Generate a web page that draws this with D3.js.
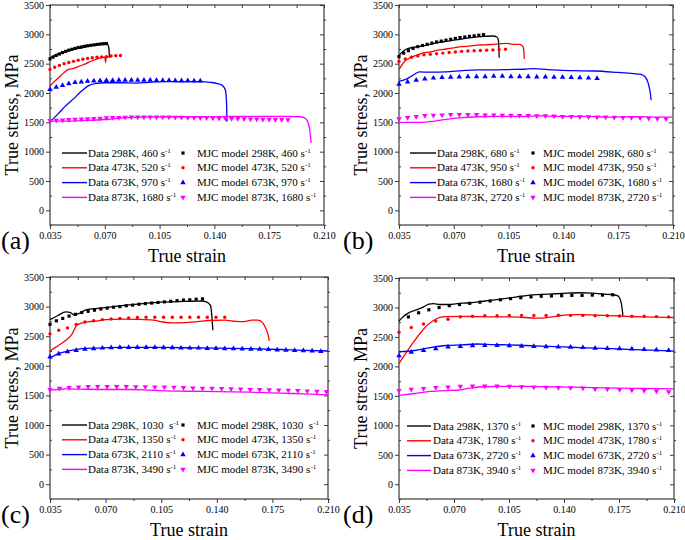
<!DOCTYPE html>
<html>
<head>
<meta charset="utf-8">
<script src="https://cdn.jsdelivr.net/npm/d3@7"></script>
<style>
  body { margin: 0; background: #fff; }
  svg { display: block; }
</style>
</head>
<body>
<div id="chart"></div>
<script>
// --------------- Data ---------------
const X_TICKS = [0.035, 0.070, 0.105, 0.140, 0.175, 0.210];
const Y_TICKS = [0, 500, 1000, 1500, 2000, 2500, 3000, 3500];
const TEMPS = ["298K", "473K", "673K", "873K"];
const COLORS = ["#000000", "#ff0000", "#0000ff", "#ff00ff"];
const PANEL_LABELS = ["(a)", "(b)", "(c)", "(d)"];
const RATES = [
  ["460", "520", "970", "1680"],
  ["680", "950", "1680", "2720"],
  ["1030 ", "1350", "2110", "3490"],
  ["1370", "1780", "2720", "3940"]
];

// panel (a)
const aLine298 = [[0.035,2600],[0.038,2640],[0.042,2680],[0.046,2715],[0.050,2745],[0.055,2770],[0.060,2800],[0.065,2830],[0.069,2850],[0.0715,2840],[0.0725,2780],[0.073,2600]];
const aModel298 = [[0.035,2580],[0.037,2610],[0.039,2640],[0.041,2665],[0.043,2690],[0.045,2710],[0.047,2730],[0.049,2745],[0.051,2760],[0.053,2775],[0.055,2785],[0.057,2795],[0.059,2805],[0.061,2812],[0.063,2820],[0.065,2827],[0.067,2833],[0.069,2838],[0.071,2842]];
const aLine473 = [[0.035,2120],[0.038,2200],[0.042,2300],[0.046,2390],[0.050,2420],[0.054,2460],[0.058,2500],[0.062,2550],[0.066,2590],[0.0700,2612],[0.0705,2520],[0.0710,2615],[0.0735,2625]];
const aModel473 = [[0.035,2400],[0.038,2440],[0.041,2470],[0.044,2500],[0.047,2520],[0.050,2540],[0.053,2560],[0.056,2575],[0.059,2590],[0.062,2600],[0.065,2610],[0.068,2615],[0.071,2620],[0.074,2630],[0.077,2635],[0.080,2640]];
const aLine673 = [[0.035,1510],[0.040,1640],[0.045,1780],[0.050,1900],[0.055,2030],[0.060,2130],[0.065,2165],[0.070,2175],[0.080,2175],[0.090,2170],[0.100,2185],[0.110,2195],[0.120,2190],[0.130,2195],[0.138,2180],[0.142,2160],[0.145,2130],[0.147,2050],[0.1478,1800],[0.148,1510]];
const aModel673 = [[0.035,2060],[0.039,2100],[0.043,2130],[0.047,2160],[0.051,2180],[0.055,2190],[0.059,2200],[0.063,2205],[0.067,2210],[0.071,2215],[0.075,2215],[0.079,2220],[0.083,2220],[0.087,2220],[0.091,2220],[0.095,2220],[0.099,2220],[0.103,2215],[0.107,2215],[0.111,2215],[0.115,2210],[0.119,2210],[0.123,2210],[0.127,2205],[0.131,2205]];
const aLine873 = [[0.035,1520],[0.045,1520],[0.055,1530],[0.065,1540],[0.075,1560],[0.085,1580],[0.095,1590],[0.110,1595],[0.130,1595],[0.150,1600],[0.170,1600],[0.185,1600],[0.195,1595],[0.198,1570],[0.200,1480],[0.2012,1300],[0.2018,1150]];
const aModel873 = [[0.035,1530],[0.039,1535],[0.043,1540],[0.047,1545],[0.051,1550],[0.055,1555],[0.059,1560],[0.063,1565],[0.067,1570],[0.071,1575],[0.075,1580],[0.079,1582],[0.083,1585],[0.087,1588],[0.091,1590],[0.095,1590],[0.099,1590],[0.103,1590],[0.107,1590],[0.111,1588],[0.115,1586],[0.119,1585],[0.123,1583],[0.127,1580],[0.131,1578],[0.135,1575],[0.139,1572],[0.143,1570],[0.147,1567],[0.151,1565],[0.155,1562],[0.159,1560],[0.163,1557],[0.167,1555],[0.171,1552],[0.175,1550],[0.179,1547],[0.183,1545],[0.187,1542]];

// panel (b)
const bLine298 = [[0.035,2640],[0.038,2720],[0.041,2760],[0.045,2780],[0.050,2800],[0.055,2830],[0.060,2860],[0.065,2880],[0.070,2900],[0.075,2920],[0.080,2940],[0.085,2955],[0.090,2965],[0.095,2972],[0.0975,2955],[0.0985,2900],[0.099,2600]];
const bModel298 = [[0.035,2620],[0.038,2680],[0.041,2720],[0.044,2760],[0.047,2790],[0.050,2810],[0.053,2830],[0.056,2850],[0.059,2870],[0.062,2885],[0.065,2900],[0.068,2915],[0.071,2930],[0.074,2945],[0.077,2955],[0.080,2965],[0.083,2975],[0.086,2985],[0.089,2995]];
const bLine473 = [[0.035,2400],[0.038,2520],[0.042,2600],[0.046,2640],[0.050,2680],[0.055,2700],[0.060,2730],[0.065,2750],[0.070,2770],[0.075,2790],[0.080,2800],[0.085,2815],[0.090,2820],[0.095,2830],[0.100,2840],[0.104,2845],[0.108,2830],[0.112,2830],[0.114,2800],[0.1148,2700],[0.115,2580]];
const bModel473 = [[0.035,2540],[0.039,2580],[0.043,2610],[0.047,2630],[0.051,2650],[0.055,2660],[0.059,2670],[0.063,2680],[0.067,2690],[0.071,2700],[0.075,2710],[0.079,2715],[0.083,2720],[0.087,2725],[0.091,2730],[0.095,2735],[0.099,2740],[0.103,2745]];
const bLine673 = [[0.035,2200],[0.040,2240],[0.045,2320],[0.048,2360],[0.055,2355],[0.065,2360],[0.075,2380],[0.085,2395],[0.095,2395],[0.105,2400],[0.115,2405],[0.121,2415],[0.130,2400],[0.145,2380],[0.160,2375],[0.175,2350],[0.185,2330],[0.189,2320],[0.192,2280],[0.194,2180],[0.1955,2000],[0.196,1880]];
const bModel673 = [[0.035,2150],[0.0405,2190],[0.046,2220],[0.0515,2240],[0.057,2255],[0.0625,2265],[0.068,2270],[0.0735,2275],[0.079,2280],[0.0845,2280],[0.090,2280],[0.0955,2285],[0.101,2285],[0.1065,2280],[0.112,2280],[0.1175,2280],[0.123,2275],[0.1285,2275],[0.134,2270],[0.1395,2270],[0.145,2265],[0.1505,2260],[0.156,2255],[0.1615,2250]];
const bLine873 = [[0.035,1500],[0.045,1500],[0.052,1505],[0.058,1520],[0.065,1550],[0.075,1580],[0.085,1595],[0.095,1600],[0.110,1600],[0.125,1610],[0.140,1600],[0.155,1600],[0.170,1590],[0.185,1595],[0.200,1590],[0.210,1590]];
const bModel873 = [[0.035,1560],[0.0405,1580],[0.046,1600],[0.0515,1615],[0.057,1620],[0.0625,1625],[0.068,1630],[0.0735,1630],[0.079,1630],[0.0845,1630],[0.090,1625],[0.0955,1625],[0.101,1620],[0.1065,1620],[0.112,1615],[0.1175,1615],[0.123,1610],[0.1285,1610],[0.134,1605],[0.1395,1600],[0.145,1600],[0.1505,1595],[0.156,1595],[0.1615,1590],[0.167,1590],[0.1725,1585],[0.178,1580],[0.1835,1580],[0.189,1575],[0.1945,1570],[0.200,1565],[0.2055,1560]];

// panel (c)
const cLine298 = [[0.035,2780],[0.040,2850],[0.045,2910],[0.048,2900],[0.050,2860],[0.053,2880],[0.058,2950],[0.065,2970],[0.075,3000],[0.085,3030],[0.095,3055],[0.105,3075],[0.115,3085],[0.125,3090],[0.130,3095],[0.1335,3080],[0.136,3020],[0.137,2800],[0.1375,2600]];
const cModel298 = [[0.035,2700],[0.039,2760],[0.043,2800],[0.047,2840],[0.051,2870],[0.055,2900],[0.059,2920],[0.063,2940],[0.067,2960],[0.071,2975],[0.075,2990],[0.079,3000],[0.083,3015],[0.087,3025],[0.091,3040],[0.095,3050],[0.099,3060],[0.103,3070],[0.107,3080],[0.111,3090],[0.115,3100],[0.119,3110],[0.123,3115],[0.127,3125],[0.131,3130]];
const cLine473 = [[0.035,2250],[0.040,2340],[0.045,2430],[0.049,2540],[0.052,2690],[0.056,2730],[0.060,2745],[0.065,2760],[0.070,2780],[0.080,2790],[0.090,2785],[0.100,2770],[0.106,2740],[0.112,2725],[0.120,2730],[0.128,2745],[0.135,2765],[0.145,2770],[0.152,2750],[0.157,2745],[0.162,2770],[0.166,2770],[0.169,2720],[0.171,2620],[0.1725,2500],[0.173,2420]];
const cModel473 = [[0.035,2540],[0.0405,2600],[0.046,2640],[0.0515,2700],[0.057,2740],[0.0625,2760],[0.068,2780],[0.0735,2790],[0.079,2800],[0.0845,2810],[0.090,2815],[0.0955,2820],[0.101,2820],[0.1065,2820],[0.112,2820],[0.1175,2820],[0.123,2820],[0.1285,2820],[0.134,2820],[0.1395,2820],[0.145,2820]];
const cLine673 = [[0.035,2130],[0.040,2200],[0.045,2240],[0.050,2270],[0.055,2290],[0.065,2300],[0.080,2310],[0.100,2310],[0.120,2305],[0.140,2300],[0.160,2290],[0.180,2275],[0.195,2260],[0.210,2250]];
const cModel673 = [[0.035,2150],[0.0405,2200],[0.046,2240],[0.0515,2260],[0.057,2280],[0.0625,2290],[0.068,2300],[0.0735,2305],[0.079,2310],[0.0845,2310],[0.090,2310],[0.0955,2310],[0.101,2310],[0.1065,2305],[0.112,2305],[0.1175,2300],[0.123,2300],[0.1285,2300],[0.134,2295],[0.1395,2295],[0.145,2290],[0.1505,2290],[0.156,2285],[0.1615,2280],[0.167,2280],[0.1725,2275],[0.178,2270],[0.1835,2265],[0.189,2260],[0.1945,2255],[0.200,2250],[0.2055,2245]];
const cLine873 = [[0.035,1590],[0.040,1600],[0.045,1610],[0.055,1605],[0.070,1600],[0.085,1600],[0.095,1595],[0.105,1580],[0.120,1570],[0.140,1565],[0.160,1555],[0.180,1540],[0.195,1525],[0.210,1510]];
const cModel873 = [[0.035,1600],[0.041,1620],[0.047,1630],[0.053,1640],[0.059,1650],[0.065,1650],[0.071,1650],[0.077,1650],[0.083,1650],[0.089,1645],[0.095,1645],[0.101,1640],[0.107,1640],[0.113,1635],[0.119,1630],[0.125,1625],[0.131,1620],[0.137,1620],[0.143,1615],[0.149,1610],[0.155,1605],[0.161,1600],[0.167,1600],[0.173,1595],[0.179,1590],[0.185,1585],[0.191,1580],[0.197,1575],[0.203,1570],[0.209,1565]];

// panel (d)
const dLine298 = [[0.035,2770],[0.038,2850],[0.042,2920],[0.046,2960],[0.050,3000],[0.054,3055],[0.057,3065],[0.061,3050],[0.066,3050],[0.072,3065],[0.080,3080],[0.090,3110],[0.100,3140],[0.110,3180],[0.120,3215],[0.130,3225],[0.140,3240],[0.150,3250],[0.158,3245],[0.165,3225],[0.170,3220],[0.174,3200],[0.176,3120],[0.177,2980],[0.1775,2860]];
const dModel298 = [[0.041,2840],[0.0475,2910],[0.054,2960],[0.0605,3000],[0.067,3030],[0.0735,3050],[0.080,3070],[0.0865,3090],[0.093,3110],[0.0995,3130],[0.106,3150],[0.1125,3165],[0.119,3180],[0.1255,3190],[0.132,3195],[0.1385,3200],[0.145,3205],[0.1515,3205],[0.158,3210],[0.1645,3210],[0.171,3215]];
const dLine473 = [[0.035,2050],[0.038,2170],[0.041,2290],[0.045,2440],[0.049,2580],[0.053,2700],[0.057,2780],[0.061,2830],[0.065,2845],[0.075,2850],[0.085,2845],[0.095,2840],[0.105,2840],[0.115,2830],[0.122,2820],[0.128,2825],[0.135,2850],[0.142,2875],[0.150,2880],[0.160,2870],[0.170,2860],[0.180,2850],[0.190,2840],[0.200,2835],[0.210,2830]];
const dModel473 = [[0.035,2580],[0.0428,2660],[0.0506,2720],[0.0584,2770],[0.0662,2800],[0.074,2840],[0.0818,2850],[0.0896,2860],[0.0974,2860],[0.1052,2865],[0.113,2865],[0.1208,2865],[0.1286,2865],[0.1364,2870],[0.1442,2865],[0.152,2865],[0.1598,2860],[0.1676,2860],[0.1754,2855],[0.1832,2850],[0.191,2850],[0.1988,2845],[0.2066,2840]];
const dLine673 = [[0.035,2250],[0.045,2270],[0.055,2320],[0.065,2355],[0.075,2365],[0.085,2380],[0.095,2370],[0.105,2365],[0.115,2355],[0.125,2345],[0.135,2335],[0.145,2325],[0.155,2315],[0.165,2305],[0.175,2295],[0.185,2285],[0.195,2275],[0.210,2260]];
const dModel673 = [[0.035,2180],[0.0428,2240],[0.0506,2270],[0.0584,2300],[0.0662,2330],[0.074,2340],[0.0818,2350],[0.0896,2355],[0.0974,2355],[0.1052,2350],[0.113,2345],[0.1208,2340],[0.1286,2335],[0.1364,2330],[0.1442,2325],[0.152,2320],[0.1598,2310],[0.1676,2305],[0.1754,2300],[0.1832,2295],[0.191,2290],[0.1988,2280],[0.2066,2270]];
const dLine873 = [[0.035,1510],[0.045,1540],[0.055,1575],[0.065,1590],[0.072,1595],[0.080,1630],[0.088,1655],[0.100,1660],[0.115,1660],[0.130,1655],[0.145,1650],[0.160,1640],[0.175,1630],[0.190,1625],[0.210,1620]];
const dModel873 = [[0.035,1590],[0.0428,1610],[0.0506,1625],[0.0584,1640],[0.0662,1650],[0.074,1660],[0.0818,1665],[0.0896,1665],[0.0974,1665],[0.1052,1660],[0.113,1655],[0.1208,1650],[0.1286,1645],[0.1364,1640],[0.1442,1635],[0.152,1630],[0.1598,1620],[0.1676,1615],[0.1754,1605],[0.1832,1600],[0.191,1590],[0.1988,1580],[0.2066,1570]];

const LINES = [
  [aLine298, aLine473, aLine673, aLine873],
  [bLine298, bLine473, bLine673, bLine873],
  [cLine298, cLine473, cLine673, cLine873],
  [dLine298, dLine473, dLine673, dLine873]
];
const MODELS = [
  [aModel298, aModel473, aModel673, aModel873],
  [bModel298, bModel473, bModel673, bModel873],
  [cModel298, cModel473, cModel673, cModel873],
  [dModel298, dModel473, dModel673, dModel873]
];

// --------------- Layout ---------------
const WIDTH = 685;
const HEIGHT = 540;
const FONT = "'Liberation Serif', 'Times New Roman', Times, serif";
const PANELS = [
  { left: 50, right: 324, top: 5, bottom: 225, lineX: [62, 87], textX: 88, markX: 183, mTextX: 197, tagX: 1, ylabX: 12 },
  { left: 399, right: 673, top: 5, bottom: 225, lineX: [410, 436], textX: 437, markX: 533, mTextX: 543, tagX: 343, ylabX: 361 },
  { left: 50, right: 328, top: 277, bottom: 499, lineX: [62, 87], textX: 88, markX: 183, mTextX: 197, tagX: 1, ylabX: 12 },
  { left: 399, right: 674, top: 278, bottom: 499, lineX: [407, 431], textX: 433, markX: 533, mTextX: 543, tagX: 343, ylabX: 361 }
];
const AXIS_COLOR = "#3a3a3a";

const svg = d3.select("#chart").append("svg")
  .attr("width", WIDTH)
  .attr("height", HEIGHT)
  .attr("font-family", FONT);

const symbols = [d3.symbolSquare, d3.symbolCircle, d3.symbolTriangle, d3.symbolTriangle];
const symbolSizes = [10, 9, 13, 13];

function marker(sel, i) {
  sel.attr("d", d3.symbol().type(symbols[i]).size(symbolSizes[i])())
    .attr("fill", COLORS[i]);
}

function renderPanel(p, k) {
  const x = d3.scaleLinear().domain([0.035, 0.210]).range([p.left, p.right]);
  const y = d3.scaleLinear().domain([-250, 3500]).range([p.bottom, p.top]);
  const g = svg.append("g");

  const xMinor = d3.range(X_TICKS.length - 1).map(i => (X_TICKS[i] + X_TICKS[i + 1]) / 2);
  const yMinor = [-250].concat(Y_TICKS.slice(0, -1).map(v => v + 250));

  const tickStyle = (s) => s.attr("font-family", FONT)
    .call(a => a.select(".domain").remove())
    .call(a => a.selectAll("line").attr("stroke", AXIS_COLOR));

  // bottom axis: ticks out, with labels
  g.append("g").attr("transform", `translate(0,${p.bottom})`)
    .call(d3.axisBottom(x).tickValues(X_TICKS).tickFormat(d3.format(".3f")).tickSize(4).tickPadding(3))
    .call(tickStyle)
    .call(a => a.selectAll("text").attr("font-size", 10));
  g.append("g").attr("transform", `translate(0,${p.bottom})`)
    .call(d3.axisBottom(x).tickValues(xMinor).tickFormat("").tickSize(2))
    .call(tickStyle);
  // left axis
  g.append("g").attr("transform", `translate(${p.left},0)`)
    .call(d3.axisLeft(y).tickValues(Y_TICKS).tickFormat(d3.format("d")).tickSize(4).tickPadding(2))
    .call(tickStyle)
    .call(a => a.selectAll("text").attr("font-size", 10));
  g.append("g").attr("transform", `translate(${p.left},0)`)
    .call(d3.axisRight(y).tickValues(yMinor).tickFormat("").tickSize(2))
    .call(tickStyle);
  // top and right: inward ticks
  g.append("g").attr("transform", `translate(0,${p.top})`)
    .call(d3.axisBottom(x).tickValues(X_TICKS.concat(xMinor)).tickFormat("").tickSize(3))
    .call(tickStyle);
  g.append("g").attr("transform", `translate(${p.right},0)`)
    .call(d3.axisLeft(y).tickValues(Y_TICKS).tickFormat("").tickSize(4))
    .call(tickStyle);
  g.append("g").attr("transform", `translate(${p.right},0)`)
    .call(d3.axisRight(y).tickValues(yMinor).tickFormat("").tickSize(2))
    .call(tickStyle);

  // frame
  g.append("rect")
    .attr("x", p.left).attr("y", p.top)
    .attr("width", p.right - p.left).attr("height", p.bottom - p.top)
    .attr("fill", "none").attr("stroke", AXIS_COLOR).attr("stroke-width", 1.2);

  // experimental curves
  const line = d3.line().x(d => x(d[0])).y(d => y(d[1])).curve(d3.curveMonotoneX);
  LINES[k].forEach((data, i) => {
    g.append("path").datum(data)
      .attr("d", line)
      .attr("fill", "none")
      .attr("stroke", COLORS[i])
      .attr("stroke-width", 1.3);
  });

  // model points
  MODELS[k].forEach((data, i) => {
    g.append("g").selectAll("path")
      .data(data)
      .enter()
      .append("path")
      .attr("transform", d => `translate(${x(d[0])},${y(d[1])})${i === 3 ? " rotate(180)" : ""}`)
      .call(marker, i);
  });

  // legend
  const rowY = (i) => p.top + 148 + i * 14.8;
  TEMPS.forEach((t, i) => {
    g.append("line")
      .attr("x1", p.lineX[0]).attr("x2", p.lineX[1])
      .attr("y1", rowY(i)).attr("y2", rowY(i))
      .attr("stroke", COLORS[i]).attr("stroke-width", 1.4);
    const label = (tx, prefix) => {
      const txt = g.append("text")
        .attr("x", tx).attr("y", rowY(i) + 3.5)
        .attr("font-size", 11)
        .attr("xml:space", "preserve");
      txt.append("tspan").text(`${prefix} ${t}, ${RATES[k][i]} s`);
      txt.append("tspan").attr("font-size", 7).attr("dy", -4).text("-1");
    };
    label(p.textX, "Data");
    g.append("path")
      .attr("transform", `translate(${p.markX},${rowY(i)})${i === 3 ? " rotate(180)" : ""}`)
      .call(marker, i);
    label(p.mTextX, "MJC model");
  });

  // axis titles
  g.append("text")
    .attr("x", (p.left + p.right) / 2).attr("y", p.bottom + 37)
    .attr("text-anchor", "middle").attr("font-size", 18)
    .text("True strain");
  g.append("text")
    .attr("transform", `translate(${p.ylabX},${(p.top + p.bottom) / 2}) rotate(-90)`)
    .attr("text-anchor", "middle").attr("dy", "0.35em").attr("font-size", 18)
    .text("True stress, MPa");
  g.append("text")
    .attr("x", p.tagX).attr("y", p.bottom + 24)
    .attr("font-size", 26)
    .text(PANEL_LABELS[k]);
}

PANELS.forEach(renderPanel);
</script>
</body>
</html>
